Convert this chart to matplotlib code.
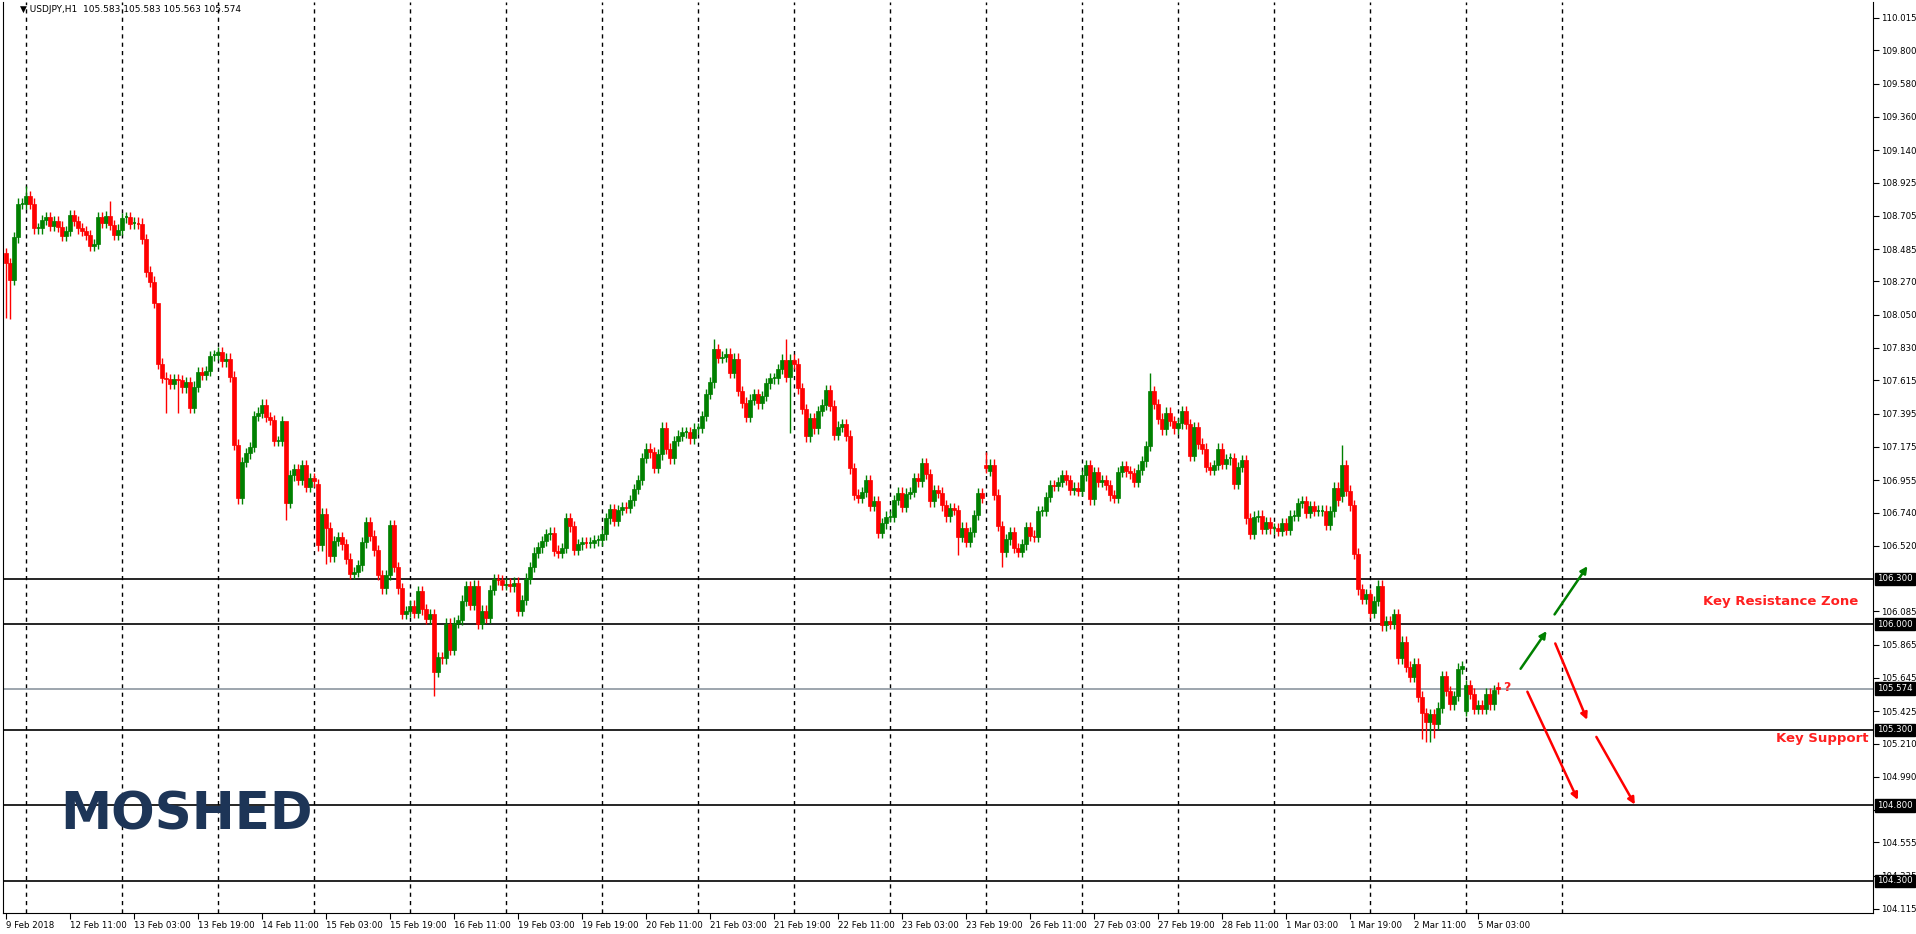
import matplotlib
matplotlib.use("Agg")
import matplotlib.pyplot as plt
from matplotlib.patches import Rectangle, FancyArrowPatch

closes = [
108.393,108.279,108.563,108.786,108.786,108.837,108.786,108.621,108.621,108.677,
108.697,108.639,108.669,108.634,108.571,108.604,108.710,108.672,108.621,108.604,
108.578,108.507,108.517,108.697,108.659,108.705,108.644,108.578,108.614,108.690,
108.695,108.654,108.659,108.654,108.550,108.335,108.269,108.127,107.726,107.633,
107.625,107.590,107.625,107.615,107.569,107.605,107.432,107.574,107.671,107.650,
107.676,107.777,107.782,107.803,107.742,107.759,107.640,107.189,106.834,107.075,
107.131,107.174,107.379,107.402,107.455,107.374,107.354,107.214,107.214,107.346,
106.804,106.986,107.027,106.956,107.055,106.910,106.969,106.946,106.522,106.733,
106.639,106.449,106.550,106.576,106.530,106.434,106.335,106.347,106.391,106.543,
106.677,106.586,106.489,106.327,106.238,106.327,106.657,106.378,106.238,106.069,
106.086,106.124,106.074,106.221,106.099,106.036,106.066,105.686,105.780,105.775,
106.005,105.830,106.010,106.028,106.157,106.251,106.130,106.256,106.003,106.091,
106.043,106.226,106.297,106.294,106.261,106.269,106.251,106.276,106.089,106.162,
106.302,106.378,106.474,106.510,106.550,106.596,106.606,106.487,106.474,106.505,
106.702,106.649,106.492,106.530,106.543,106.540,106.540,106.555,106.555,106.596,
106.702,106.763,106.687,106.758,106.776,106.773,106.821,106.895,106.956,107.100,
107.164,107.138,107.037,107.126,107.303,107.164,107.098,107.214,107.250,107.270,
107.270,107.232,107.296,107.301,107.379,107.524,107.602,107.823,107.764,107.772,
107.792,107.663,107.759,107.544,107.468,107.372,107.488,107.524,107.463,107.511,
107.595,107.628,107.628,107.691,107.752,107.640,107.752,107.726,107.562,107.425,
107.245,107.366,107.298,107.412,107.455,107.549,107.448,107.252,107.308,107.326,
107.250,107.032,106.859,106.839,106.877,106.956,106.783,106.814,106.606,106.669,
106.712,106.712,106.824,106.872,106.778,106.865,106.877,106.966,106.946,107.067,
106.996,106.814,106.887,106.872,106.788,106.715,106.768,106.758,106.581,106.639,
106.548,106.611,106.725,106.870,106.839,107.037,107.057,106.859,106.652,106.479,
106.563,106.611,106.505,106.479,106.530,106.644,106.586,106.581,106.750,106.750,
106.842,106.923,106.915,106.941,106.986,106.956,106.890,106.905,106.885,106.986,
107.055,106.827,107.007,106.941,106.956,106.923,106.854,106.839,107.007,107.047,
107.012,106.999,106.941,107.024,107.078,107.181,107.544,107.460,107.361,107.290,
107.402,107.346,107.298,107.331,107.410,107.326,107.116,107.306,107.197,107.164,
107.042,107.024,107.055,107.164,107.062,107.093,107.098,106.930,107.042,107.088,
106.702,106.601,106.712,106.720,106.631,106.677,106.636,106.636,106.619,106.669,
106.624,106.720,106.720,106.804,106.814,106.738,106.783,106.753,106.753,106.753,
106.657,106.748,106.905,106.821,107.055,106.885,106.788,106.467,106.231,106.170,
106.200,106.074,106.155,106.256,105.993,106.023,106.003,106.069,105.775,105.884,
105.719,105.650,105.739,105.521,105.410,105.351,105.404,105.339,105.448,105.655,
105.559,105.470,105.524,105.706,105.724,105.597,105.541,105.440,105.465,105.440,
105.541,105.470,105.562,105.574]

open_overrides = {0: 108.457, 78: 106.930, 245: 107.052, 246: 107.016,
                  334: 106.847, 365: 105.427, 373: 105.583}
high_overrides = {5: 108.90, 177: 107.891, 195: 107.891, 245: 107.138, 286: 107.663,
                  334: 107.190, 38: 107.85, 26: 108.80, 70: 107.12}
low_overrides = {0: 108.03, 1: 108.02, 70: 106.692, 107: 105.528, 40: 107.40, 43: 107.40,
                 196: 107.265, 354: 105.237, 355: 105.22, 356: 105.22, 357: 105.25,
                 249: 106.38, 80: 106.40, 238: 106.46}

x_labels = ["9 Feb 2018", "12 Feb 11:00", "13 Feb 03:00", "13 Feb 19:00", "14 Feb 11:00",
            "15 Feb 03:00", "15 Feb 19:00", "16 Feb 11:00", "19 Feb 03:00", "19 Feb 19:00",
            "20 Feb 11:00", "21 Feb 03:00", "21 Feb 19:00", "22 Feb 11:00", "23 Feb 03:00",
            "23 Feb 19:00", "26 Feb 11:00", "27 Feb 03:00", "27 Feb 19:00", "28 Feb 11:00",
            "1 Mar 03:00", "1 Mar 19:00", "2 Mar 11:00", "5 Mar 03:00"]
y_ticks = [110.015, 109.800, 109.580, 109.360, 109.140, 108.925, 108.705, 108.485, 108.270,
           108.050, 107.830, 107.615, 107.395, 107.175, 106.955, 106.740, 106.520, 106.085,
           105.865, 105.645, 105.425, 105.210, 104.990, 104.770, 104.555, 104.335, 104.115]
levels = [106.300, 106.000, 105.300, 104.800, 104.300]
bid = 105.574

W, H = 1916, 934
fig = plt.figure(figsize=(W/100, H/100), dpi=100)
L, R, T, B = 3, 1873, 2, 913
ax = fig.add_axes([L/W, (H-B)/H, (R-L)/W, (B-T)/H])
ax.set_xlim(-0.8, (R-L)/4 - 0.8)
ax.set_ylim(110.015 - (B-18)/151, 110.015 + 16/151)

wick = 0.035
prev = None
for i, c in enumerate(closes):
    o = open_overrides.get(i, prev if prev is not None else c)
    hi = high_overrides.get(i, max(o, c) + wick)
    lo = low_overrides.get(i, min(o, c) - wick)
    col = "#008000" if c >= o else "#ff0000"
    ax.vlines(i, lo, hi, color=col, lw=1.0, zorder=3)
    bot = min(o, c); h = abs(c - o)
    if h < 0.006:
        ax.hlines(c, i-0.4, i+0.4, color=col, lw=1.2, zorder=3)
    else:
        ax.add_patch(Rectangle((i-0.45, bot), 0.9, h, facecolor=col, edgecolor=col, lw=0.5, zorder=3))
    prev = c

for k in range(5, 390, 24):
    ax.axvline(k, color="black", ls=(0, (3, 3)), lw=1, zorder=1)
for lv in levels:
    ax.axhline(lv, color="black", lw=1.2, zorder=2)
ax.axhline(bid, color="#8c96a0", lw=1.2, zorder=2)

ax.yaxis.tick_right()
ax.set_yticks(y_ticks)
ax.set_yticklabels([f"{v:.3f}" for v in y_ticks], fontsize=6.2)
ax.set_xticks(range(0, 16*len(x_labels), 16))
ax.set_xticklabels(x_labels, fontsize=6.2, ha="left")
ax.tick_params(axis="both", length=4, direction="out", pad=2)
ax.spines["top"].set_visible(False)

for lv in levels + [bid]:
    ax.annotate(f"{lv:.3f}", xy=(1.0, lv), xycoords=("axes fraction", "data"),
                xytext=(3, 0), textcoords="offset points", va="center", ha="left",
                fontsize=6.2, color="white",
                bbox=dict(boxstyle="square,pad=0.2", fc="black", ec="black"), zorder=5,
                annotation_clip=False)

ax.text(1852/4, 106.15, "Key Resistance Zone", color="#ff2020", fontsize=9.5,
        fontweight="bold", ha="right", va="center")
ax.text(1862/4, 105.245, "Key Support", color="#ff2020", fontsize=9.5,
        fontweight="bold", ha="right", va="center")
ax.text(375.2, 105.58, "?", color="#ff2020", fontsize=9, fontweight="bold",
        ha="center", va="center")

def arrow(x0, y0, x1, y1, col):
    ax.add_patch(FancyArrowPatch((x0, y0), (x1, y1), arrowstyle="-|>", mutation_scale=10,
                                 color=col, lw=1.8, zorder=4))
arrow(378.2, 105.69, 385.5, 105.97, "#008000")
arrow(386.7, 106.05, 395.7, 106.40, "#008000")
arrow(387.0, 105.89, 395.5, 105.35, "#ff0000")
arrow(380.0, 105.57, 393.2, 104.82, "#ff0000")
arrow(397.2, 105.27, 407.5, 104.79, "#ff0000")

fig.text(60/W, 1-815/H, "MOSHED", fontsize=37, fontweight="bold", color="#1d3557",
         va="center", ha="left")
fig.text(20/W, 1-10/H, "▼ USDJPY,H1  105.583 105.583 105.563 105.574", fontsize=6.5,
         va="center", ha="left")
fig.savefig("out.png", dpi=100)
